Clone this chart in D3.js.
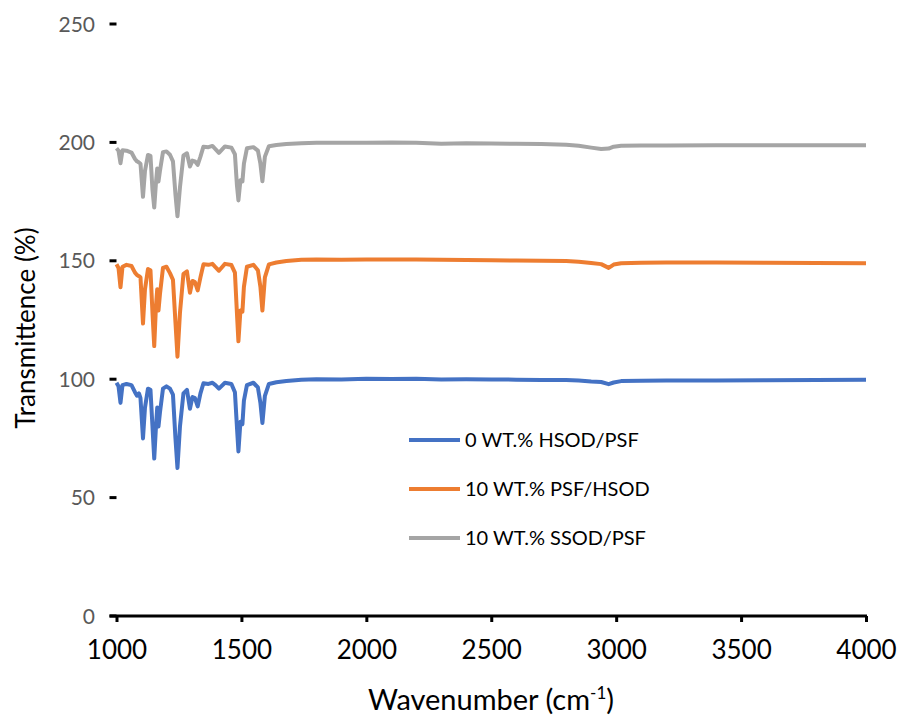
<!DOCTYPE html>
<html>
<head>
<meta charset="utf-8">
<script src="https://cdn.jsdelivr.net/npm/d3@7"></script>
<style>
  body { margin: 0; background: #fff; }
  svg { font-family: Lato, "Open Sans", sans-serif; }
</style>
</head>
<body>
<svg id="chart" width="899" height="716"></svg>
<script>
// Wavenumbers (cm-1) shared by all three spectra
const wavenumbers = [1000, 1008, 1016, 1024, 1040, 1060, 1074, 1082, 1090, 1096, 1106, 1114, 1126, 1136, 1144, 1151, 1158, 1163, 1168, 1174,
  1186, 1200, 1214, 1226, 1236, 1244, 1254, 1268, 1282, 1294, 1304, 1314, 1325, 1336, 1348, 1368, 1384, 1396, 1410, 1434,
  1460, 1474, 1482, 1488, 1496, 1504, 1510, 1522, 1548, 1566, 1576, 1584, 1594, 1610, 1640, 1680, 1740, 1800, 1900, 2000,
  2100, 2200, 2300, 2400, 2500, 2600, 2700, 2800, 2850, 2900, 2940, 2970, 2990, 3020, 3100, 3200, 3400, 3600, 3800, 4000];

const hsodPsf0 = [98.5, 97, 90, 97.5, 98, 97.5, 94.5, 93, 94, 92, 75, 88, 96, 95.5, 80, 66.5, 80, 88, 80, 86,
  96, 97, 96, 93.5, 75, 62.5, 80, 94, 95.5, 87.5, 92.5, 92, 88.5, 94, 98.3, 98, 98.5, 97.5, 96, 98.5,
  98, 94.5, 80, 69.5, 82, 81, 91, 97.5, 98.5, 96.5, 90, 81.5, 93, 98, 98.7, 99.2, 99.8, 100, 99.9, 100.2,
  100.1, 100.2, 99.9, 100, 99.9, 99.8, 99.7, 99.7, 99.4, 99, 98.8, 97.9, 98.6, 99.2, 99.3, 99.4, 99.5, 99.6, 99.7, 99.8];

const psfHsod10 = [148.5, 147, 138.8, 147.5, 148.3, 147.8, 145, 144, 143.5, 143, 123.5, 138, 146.5, 146, 128, 114, 131, 138, 129, 136,
  147, 147.5, 144.8, 142, 124, 109.5, 128, 144.5, 145.5, 136.5, 141.5, 141, 137.5, 143, 148.5, 148.3, 148.7, 147.3, 145.8, 148.7,
  148.2, 145, 128, 116, 129, 128.5, 139, 147.5, 148.3, 146, 139, 129, 143, 148.5, 149.3, 149.9, 150.4, 150.5, 150.4, 150.6,
  150.5, 150.6, 150.4, 150.3, 150.2, 150.1, 150, 149.9, 149.6, 149.1, 148.6, 147, 148.4, 149, 149.2, 149.3, 149.3, 149.2, 149.1, 149];

const ssodPsf10 = [197.5, 196.5, 191.2, 196.7, 196.5, 195.7, 193, 192, 191.5, 191, 177, 188, 194.7, 194.3, 180, 172.5, 183, 189, 183.5, 188,
  195.9, 196.2, 194.8, 192, 178, 168.8, 181, 194.5, 195.4, 189.8, 192.3, 192, 190.5, 194, 198.2, 198, 198.5, 197.2, 195.6, 198.3,
  197.8, 195, 182, 175.5, 184, 183.5, 191, 197.5, 198, 196.5, 191, 183.6, 194, 198.4, 198.9, 199.3, 199.6, 199.8, 199.8, 199.9,
  200, 199.8, 199.4, 199.6, 199.5, 199.4, 199.3, 199, 198.6, 197.8, 197.2, 197.4, 198.2, 198.6, 198.7, 198.7, 198.8, 198.8, 198.8, 198.8];

const seriesNames = ["0 WT.% HSOD/PSF", "10 WT.% PSF/HSOD", "10 WT.% SSOD/PSF"];
const seriesColors = ["#4472C4", "#ED7D31", "#A5A5A5"];
const xTicks = [1000, 1500, 2000, 2500, 3000, 3500, 4000];
const yTicks = [0, 50, 100, 150, 200, 250];

const series = [hsodPsf0, psfHsod10, ssodPsf10].map((vals, i) => ({
  name: seriesNames[i],
  color: seriesColors[i],
  values: vals.map((v, j) => ({ x: wavenumbers[j], y: v }))
}));

const svg = d3.select("#chart");

// Scales
const x = d3.scaleLinear().domain([1000, 4000]).range([116.5, 866]);
const y = d3.scaleLinear().domain([0, 250]).range([616, 24]);

// Y tick marks (no axis line) and labels
const yAxis = svg.append("g").attr("class", "y axis");
yAxis.selectAll("line")
  .data(yTicks)
  .enter().append("line")
    .attr("x1", x(1000) - 7)
    .attr("x2", x(1000))
    .attr("y1", d => y(d))
    .attr("y2", d => y(d))
    .attr("stroke", "#000")
    .attr("stroke-width", 3);
yAxis.selectAll("text")
  .data(yTicks)
  .enter().append("text")
    .attr("x", 95)
    .attr("y", d => y(d))
    .attr("dy", "0.36em")
    .attr("text-anchor", "end")
    .attr("fill", "#595959")
    .style("font-size", "21px")
    .text(d => d);

// X axis
const xAxis = svg.append("g")
  .attr("class", "x axis")
  .attr("transform", `translate(0,${y(0)})`)
  .call(d3.axisBottom(x).tickValues(xTicks).tickFormat(d3.format("d"))
    .tickSize(6).tickSizeOuter(0).tickPadding(19));
xAxis.select(".domain")
  .attr("d", `M${x(1000) - 7},0H${x(4000) + 1}`)
  .attr("stroke-width", 3);
xAxis.selectAll(".tick line").attr("stroke-width", 3);
xAxis.selectAll(".tick text")
  .style("font-size", "26px")
  .style("font-family", "Lato, sans-serif")
  .attr("fill", "#000");

// Lines
const line = d3.line()
  .x(d => x(d.x))
  .y(d => y(d.y));

svg.selectAll(".line")
  .data(series)
  .enter().append("path")
    .attr("class", "line")
    .attr("fill", "none")
    .attr("stroke", d => d.color)
    .attr("stroke-width", 4)
    .attr("stroke-linejoin", "round")
    .attr("d", d => line(d.values));

// Axis titles
svg.append("text")
  .attr("transform", "rotate(-90)")
  .attr("x", -328)
  .attr("y", 35)
  .attr("text-anchor", "middle")
  .style("font-size", "26px")
  .text("Transmittence (%)");

const xTitle = svg.append("text")
  .attr("x", 491)
  .attr("y", 710)
  .attr("text-anchor", "middle")
  .style("font-size", "29px");
xTitle.append("tspan").text("Wavenumber (cm");
xTitle.append("tspan").attr("dy", -11).style("font-size", "17px").text("-1");
xTitle.append("tspan").attr("dy", 11).text(")");

// Legend
const legend = svg.append("g").attr("class", "legend");
const legendRows = legend.selectAll("g")
  .data(series)
  .enter().append("g")
    .attr("transform", (d, i) => `translate(409,${440 + i * 49})`);
legendRows.append("line")
  .attr("x1", 0).attr("x2", 51)
  .attr("stroke", d => d.color)
  .attr("stroke-width", 4);
legendRows.append("text")
  .attr("x", 56)
  .attr("dy", "0.36em")
  .style("font-size", "20px")
  .text(d => d.name);
</script>
</body>
</html>
